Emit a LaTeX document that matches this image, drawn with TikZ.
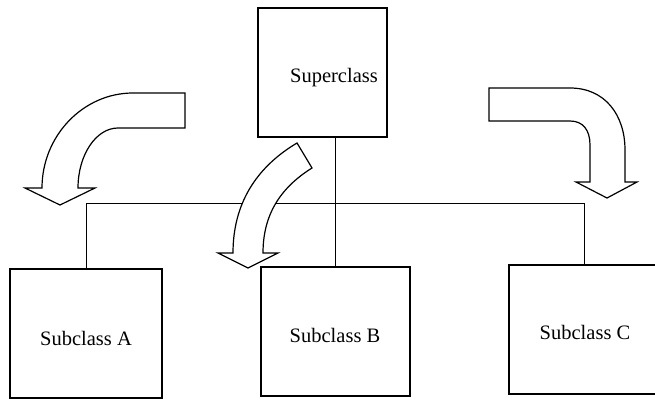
\documentclass[tikz,border=0pt]{standalone}
\usepackage{fontspec}
\setmainfont{Liberation Serif}
\begin{document}
\begin{tikzpicture}[x=1pt,y=-1pt,
  box/.style={draw=black,line width=1.2pt,fill=white,inner sep=0pt},
  lbl/.style={anchor=base,inner sep=0pt,font=\fontsize{20.5pt}{24pt}\selectfont},
  wire/.style={draw=black,line width=1pt},
  bigarrow/.style={draw=black,line width=1.2pt,fill=white,line join=miter}]
\useasboundingbox (0,0) rectangle (655,401);
\clip (0,0) rectangle (655,401);

% class boxes
\node[box,minimum width=129pt,minimum height=129pt] (super) at (322.5,72.5) {};
\node[box,minimum width=152pt,minimum height=129pt] (subA) at (86,333.5) {};
\node[box,minimum width=149pt,minimum height=129pt] (subB) at (335.5,331.5) {};
\node[box,minimum width=150pt,minimum height=129pt] (subC) at (584,329.5) {};

% captions
\node[lbl] (superT) at (334,83) {Superclass};
\node[lbl] (subAT) at (86,345) {Subclass A};
\node[lbl] (subBT) at (335,342) {Subclass B};
\node[lbl] (subCT) at (585,339) {Subclass C};

% inheritance tree
\coordinate (bus) at (0,203);
\draw[wire] (super.south -| subB.north) -- (subB.north);
\draw[wire] (subA.north) -- (subA.north |- bus) -- (subC.north |- bus) -- (subC.north);

% curved block arrows
\path[bigarrow] (185,93) -- (133,93) .. controls (83,93) and (42,136) .. (42,188)
  -- (25,188) -- (60,205) -- (95,188) -- (78,188)
  .. controls (78,155) and (96,128) .. (118,128) -- (185,128) -- cycle;

\path[bigarrow] (297,143) .. controls (255,168) and (233,205) .. (233,253)
  -- (218,253) -- (248,268) -- (278,253) -- (263,253)
  .. controls (263,215) and (280,188) .. (312,168) -- cycle;

\path[bigarrow] (489,88) -- (570,88) .. controls (605,88) and (625,115) .. (625,150)
  -- (625,182) -- (637,182) -- (607,198) -- (576,182) -- (590,182) -- (590,145)
  .. controls (590,130) and (583,121) .. (570,121) -- (489,121) -- cycle;
\end{tikzpicture}
\end{document}
